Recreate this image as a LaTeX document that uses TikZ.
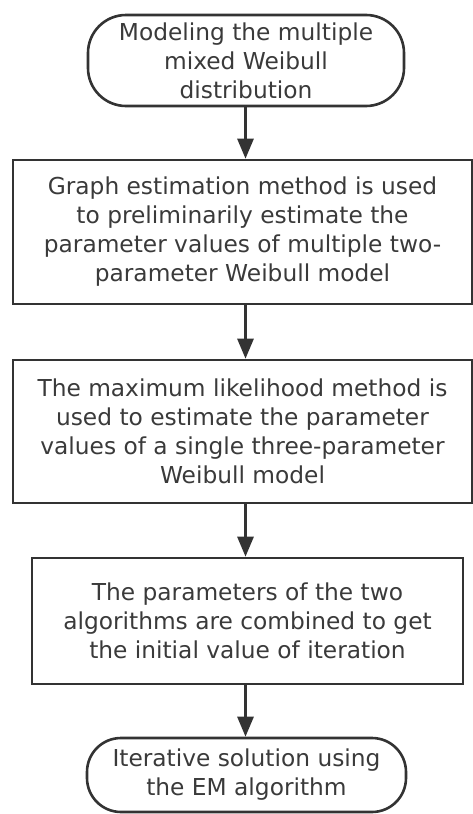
\documentclass[tikz,border=0pt]{standalone}
\usepackage{fontspec}
\setmainfont{DejaVu Sans}
\usetikzlibrary{arrows.meta}
\definecolor{linec}{HTML}{333333}
\definecolor{textc}{HTML}{3A3A3A}
\begin{document}
\begin{tikzpicture}[x=1pt,y=1pt,
  base/.style={draw=linec, line width=2.6pt, text=textc, align=center, inner sep=0pt,
    font=\fontsize{23.3}{29}\selectfont},
  term/.style={base, rounded corners=38pt},
  procbox/.style={base},
  flow/.style={draw=linec, line width=2.8pt, -{Triangle[length=20pt,width=16pt]}}]
\useasboundingbox (0,0) rectangle (473,-814);
\node[term, minimum width=316pt, minimum height=91pt] (t1) at (246,-60.5)
  {Modeling the multiple\\mixed Weibull\\distribution};
\node[procbox, minimum width=459pt, minimum height=144pt] (b2) at (242.5,-232)
  {Graph estimation method is used\\to preliminarily estimate the\\parameter values of multiple two-\\parameter Weibull model};
\node[procbox, minimum width=459pt, minimum height=143pt] (b3) at (242.5,-431.5)
  {The maximum likelihood method is\\used to estimate the parameter\\values of a single three-parameter\\Weibull model};
\node[procbox, minimum width=431pt, minimum height=126pt] (b4) at (247.5,-621)
  {The parameters of the two\\algorithms are combined to get\\the initial value of iteration};
\node[term, minimum width=319pt, minimum height=74pt, rounded corners=34pt] (t2) at (246.5,-775)
  {Iterative solution using\\the EM algorithm};
\coordinate (ax) at (245.5,0);
\draw[flow] (t1.south -| ax) -- (b2.north -| ax);
\draw[flow] (b2.south -| ax) -- (b3.north -| ax);
\draw[flow] (b3.south -| ax) -- (b4.north -| ax);
\draw[flow] (b4.south -| ax) -- (t2.north -| ax);
\end{tikzpicture}
\end{document}
